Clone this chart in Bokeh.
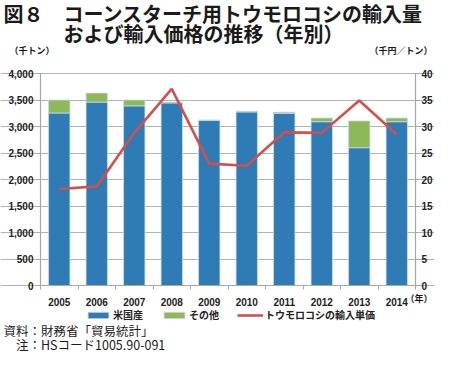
from bokeh.plotting import figure
from bokeh.models import (ColumnDataSource, Range1d, LinearAxis, FixedTicker, Grid,
                          NumeralTickFormatter, Label, Legend, LegendItem)
from bokeh.embed import file_html
from bokeh.resources import INLINE

years = [2005, 2006, 2007, 2008, 2009, 2010, 2011, 2012, 2013, 2014]
us_volume = [3255, 3460, 3390, 3445, 3115, 3275, 3250, 3090, 2600, 3090]
other_volume = [245, 170, 110, 15, 5, 15, 20, 70, 505, 70]
unit_price = [18.2, 18.7, 28.8, 37.1, 23.0, 22.6, 28.9, 28.8, 34.9, 28.5]
left_ticks = [0, 500, 1000, 1500, 2000, 2500, 3000, 3500, 4000]
right_ticks = [0, 5, 10, 15, 20, 25, 30, 35, 40]

BLUE = "#2E7BB5"
GREEN = "#8DB958"
RED = "#D2504C"
GRID = "#B3B3B3"
AX = "#A6A6A6"
JP = "Noto Sans CJK JP"
NUM = "Liberation Sans"

# layout of the chart area in canvas pixels
W, H = 434, 356
AREA_L, AREA_R, AREA_T, AREA_B = 40, 415, 73, 285
X0, X1 = years[0] - 0.5, years[-1] + 0.5
YMAX, PMAX = left_ticks[-1], right_ticks[-1]

xpp = (X1 - X0) / (AREA_R - AREA_L)
ypp = YMAX / (AREA_B - AREA_T)
ppp = PMAX / (AREA_B - AREA_T)
x_start = X0 - AREA_L * xpp
x_end = X1 + (W - AREA_R) * xpp
y_start = -(H - AREA_B) * ypp
y_end = YMAX + AREA_T * ypp
p_start = -(H - AREA_B) * ppp
p_end = PMAX + AREA_T * ppp

src = ColumnDataSource(dict(year=years, us=us_volume, other=other_volume, price=unit_price))

p = figure(width=W, height=H, output_backend="svg", toolbar_location=None,
           x_range=Range1d(x_start, x_end), y_range=Range1d(y_start, y_end),
           x_axis_location=None, y_axis_location=None,
           min_border=0, min_border_left=0, min_border_right=0,
           min_border_top=0, min_border_bottom=0)
p.outline_line_color = None
p.background_fill_color = "white"
p.border_fill_color = "white"
p.xgrid.visible = False
p.ygrid.visible = False

p.extra_y_ranges = {"price": Range1d(p_start, p_end)}

p.add_layout(Grid(dimension=1, ticker=FixedTicker(ticks=left_ticks), bounds=(X0, X1),
                  grid_line_color=GRID, grid_line_width=1.2))

bars = p.vbar_stack(["us", "other"], x="year", width=0.57, source=src,
                    color=[BLUE, GREEN], line_color="#C9D9EA", line_width=0.8)
ln = p.line("year", "price", source=src, y_range_name="price", line_color=RED, line_width=2.6)

def style_axis(a):
    a.axis_line_color = AX
    a.axis_line_width = 1.2
    a.major_tick_line_color = AX
    a.major_label_text_font = NUM
    a.major_label_text_font_style = "bold"
    a.major_label_text_font_size = "10px"
    a.major_label_text_color = "#222222"

xa = LinearAxis(fixed_location=0, bounds=(X0, X1),
                ticker=FixedTicker(ticks=years, minor_ticks=[y - 0.5 for y in years] + [X1]))
style_axis(xa)
xa.major_tick_out = 0
xa.major_tick_in = 0
xa.minor_tick_out = 4
xa.minor_tick_in = 0
xa.minor_tick_line_color = AX
xa.major_label_standoff = 8
p.add_layout(xa, "below")

ya = LinearAxis(fixed_location=X0, bounds=(0, YMAX), ticker=FixedTicker(ticks=left_ticks),
                formatter=NumeralTickFormatter(format="0,0"))
style_axis(ya)
ya.major_tick_out = 3
ya.major_tick_in = 0
ya.minor_tick_line_color = None
ya.major_label_standoff = 4
p.add_layout(ya, "left")

ra = LinearAxis(y_range_name="price", fixed_location=X1, bounds=(0, PMAX),
                ticker=FixedTicker(ticks=right_ticks))
style_axis(ra)
ra.major_tick_out = 3
ra.major_tick_in = 0
ra.minor_tick_line_color = None
ra.major_label_standoff = 3
p.add_layout(ra, "right")

legend = Legend(items=[LegendItem(label="米国産", renderers=[bars[0]]),
                       LegendItem(label="その他", renderers=[bars[1]]),
                       LegendItem(label="トウモロコシの輸入単価", renderers=[ln])],
                orientation="horizontal", location=(85, H - 322),
                glyph_width=26, glyph_height=8, label_standoff=2, spacing=18,
                padding=0, margin=0, border_line_color=None, background_fill_alpha=0,
                label_text_font=JP, label_text_font_size="10px", label_text_font_style="bold",
                label_text_color="#222222", label_height=14)
p.add_layout(legend, "center")

def lab(text, px, py, size, style="normal", align="left", baseline="middle", font=JP, color="#1a1a1a"):
    p.add_layout(Label(x=px, y=H - py, x_units="screen", y_units="screen", text=text,
                       text_font=font, text_font_size=size, text_font_style=style,
                       text_align=align, text_baseline=baseline, text_color=color))

lab("図８", 3, 13, "20px", "bold")
lab("コーンスターチ用トウモロコシの輸入量", 63, 13, "20px", "bold")
lab("および輸入価格の推移（年別）", 63, 33, "20px", "bold")
lab("（千トン）", 9, 50, "9px", "bold")
lab("（千円／トン）", 432, 50, "9px", "bold", align="right")
lab("（年）", 432, 298, "9px", "bold", align="right")
lab("資料：財務省「貿易統計」", 3, 330, "12.5px")
lab("　注：HSコード1005.90-091", 3, 344, "12.5px")

open("out.html", "w").write(file_html(p, INLINE))
